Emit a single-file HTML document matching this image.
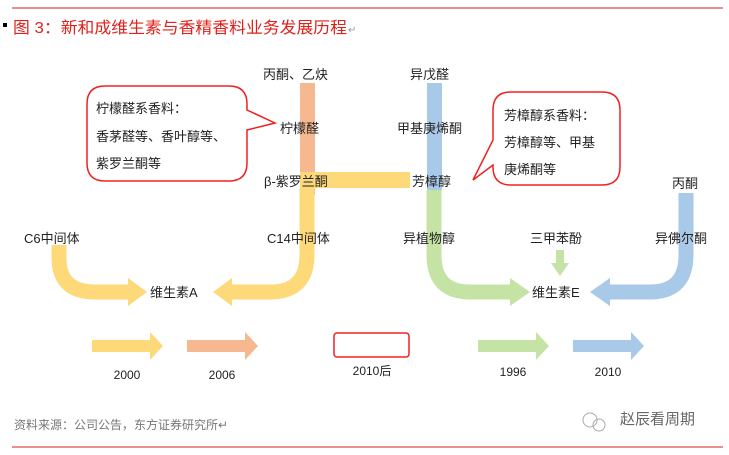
<!DOCTYPE html>
<html><head><meta charset="utf-8"><style>
body{margin:0;background:#fff;}
svg text{font-family:"Liberation Sans","Noto Sans CJK SC",sans-serif;}
</style></head><body>
<svg width="729" height="450" viewBox="0 0 729 450" xmlns="http://www.w3.org/2000/svg">
<line x1="12" y1="8" x2="723" y2="8" stroke="#e06c6c" stroke-width="1.5"/>
<rect x="3" y="23" width="4" height="4" fill="#000"/>
<text x="13" y="33" font-size="16" fill="#e0201a" textLength="334" lengthAdjust="spacingAndGlyphs">图 3：新和成维生素与香精香料业务发展历程</text>
<text x="348" y="33" font-size="10" fill="#999">↵</text>

<rect x="300" y="83" width="15" height="112" fill="#f6b98f"/>
<rect x="427" y="83" width="15" height="107" fill="#a9c9e8"/>
<path d="M300 180 H410" stroke="#fdd97a" stroke-width="16" fill="none"/>
<path d="M307 188 V255 Q307 292 270 292 H230" stroke="#fdd97a" stroke-width="15" fill="none"/>
<polygon points="232,278 213,292 232,306" fill="#fdd97a"/>
<path d="M59 245 V258 Q59 292 95 292 H130" stroke="#fdd97a" stroke-width="15" fill="none"/>
<polygon points="128,278 147,292 128,306" fill="#fdd97a"/>
<path d="M434 190 V255 Q434 292 470 292 H512" stroke="#c6e3a6" stroke-width="15" fill="none"/>
<polygon points="510,278 530,292 510,306" fill="#c6e3a6"/>
<rect x="556" y="250" width="8" height="14" fill="#c6e3a6"/>
<polygon points="551,263 569,263 560,276" fill="#c6e3a6"/>
<path d="M686 193 V255 Q686 292 650 292 H608" stroke="#a9c9e8" stroke-width="15" fill="none"/>
<polygon points="610,278 590,292 610,306" fill="#a9c9e8"/>

<path d="M105 86 H229 Q247 86 247 104 V110 L275 123 L247 130 V163 Q247 181 229 181 H105 Q87 181 87 163 V104 Q87 86 105 86 Z" fill="#fff" stroke="#f02020" stroke-width="1.5"/>
<path d="M511 92 H602 Q620 92 620 110 V167 Q620 185 602 185 H511 Q493 185 493 167 V165 L473 180 L493 140 V110 Q493 92 511 92 Z" fill="#fff" stroke="#f02020" stroke-width="1.5"/>
<g font-size="13" fill="#222">
<text x="96" y="113">柠檬醛系香料：</text>
<text x="96" y="141">香茅醛等、香叶醇等、</text>
<text x="96" y="168">紫罗兰酮等</text>
<text x="504" y="120">芳樟醇系香料：</text>
<text x="504" y="147">芳樟醇等、甲基</text>
<text x="504" y="174">庚烯酮等</text>
<text x="263" y="79">丙酮、乙炔</text>
<text x="410" y="79">异戊醛</text>
<text x="280" y="133">柠檬醛</text>
<text x="397" y="133">甲基庚烯酮</text>
<text x="264" y="186">β-紫罗兰酮</text>
<text x="412" y="186">芳樟醇</text>
<text x="672" y="188">丙酮</text>
<text x="24" y="243">C6中间体</text>
<text x="267" y="243">C14中间体</text>
<text x="403" y="243">异植物醇</text>
<text x="530" y="243">三甲苯酚</text>
<text x="655" y="243">异佛尔酮</text>
<text x="150" y="297">维生素A</text>
<text x="532" y="297">维生素E</text>
</g>

<path d="M92 340 H150 V332 L163 346 L150 360 V352 H92 Z" fill="#fdd97a"/>
<path d="M187 340 H245 V332 L258 346 L245 360 V352 H187 Z" fill="#f6b98f"/>
<rect x="334" y="333" width="75" height="24" rx="3" fill="#fff" stroke="#f02020" stroke-width="1.5"/>
<path d="M478 340 H536 V332 L549 346 L536 360 V352 H478 Z" fill="#c6e3a6"/>
<path d="M573 340 H631 V332 L644 346 L631 360 V352 H573 Z" fill="#a9c9e8"/>
<g font-size="12" fill="#222" text-anchor="middle">
<text x="127" y="379">2000</text>
<text x="222" y="379">2006</text>
<text x="372" y="375">2010后</text>
<text x="513" y="376">1996</text>
<text x="608" y="376">2010</text>
</g>
<text x="14" y="429" font-size="12" fill="#777">资料来源：公司公告，东方证券研究所↵</text>
<circle cx="590" cy="420" r="7" fill="none" stroke="#aaa"/>
<circle cx="599" cy="425" r="6" fill="none" stroke="#aaa"/>
<text x="620" y="424" font-size="15" fill="#666">赵辰看周期</text>
<line x1="12" y1="447" x2="723" y2="447" stroke="#e06c6c" stroke-width="1.5"/>
</svg>
</body></html>
